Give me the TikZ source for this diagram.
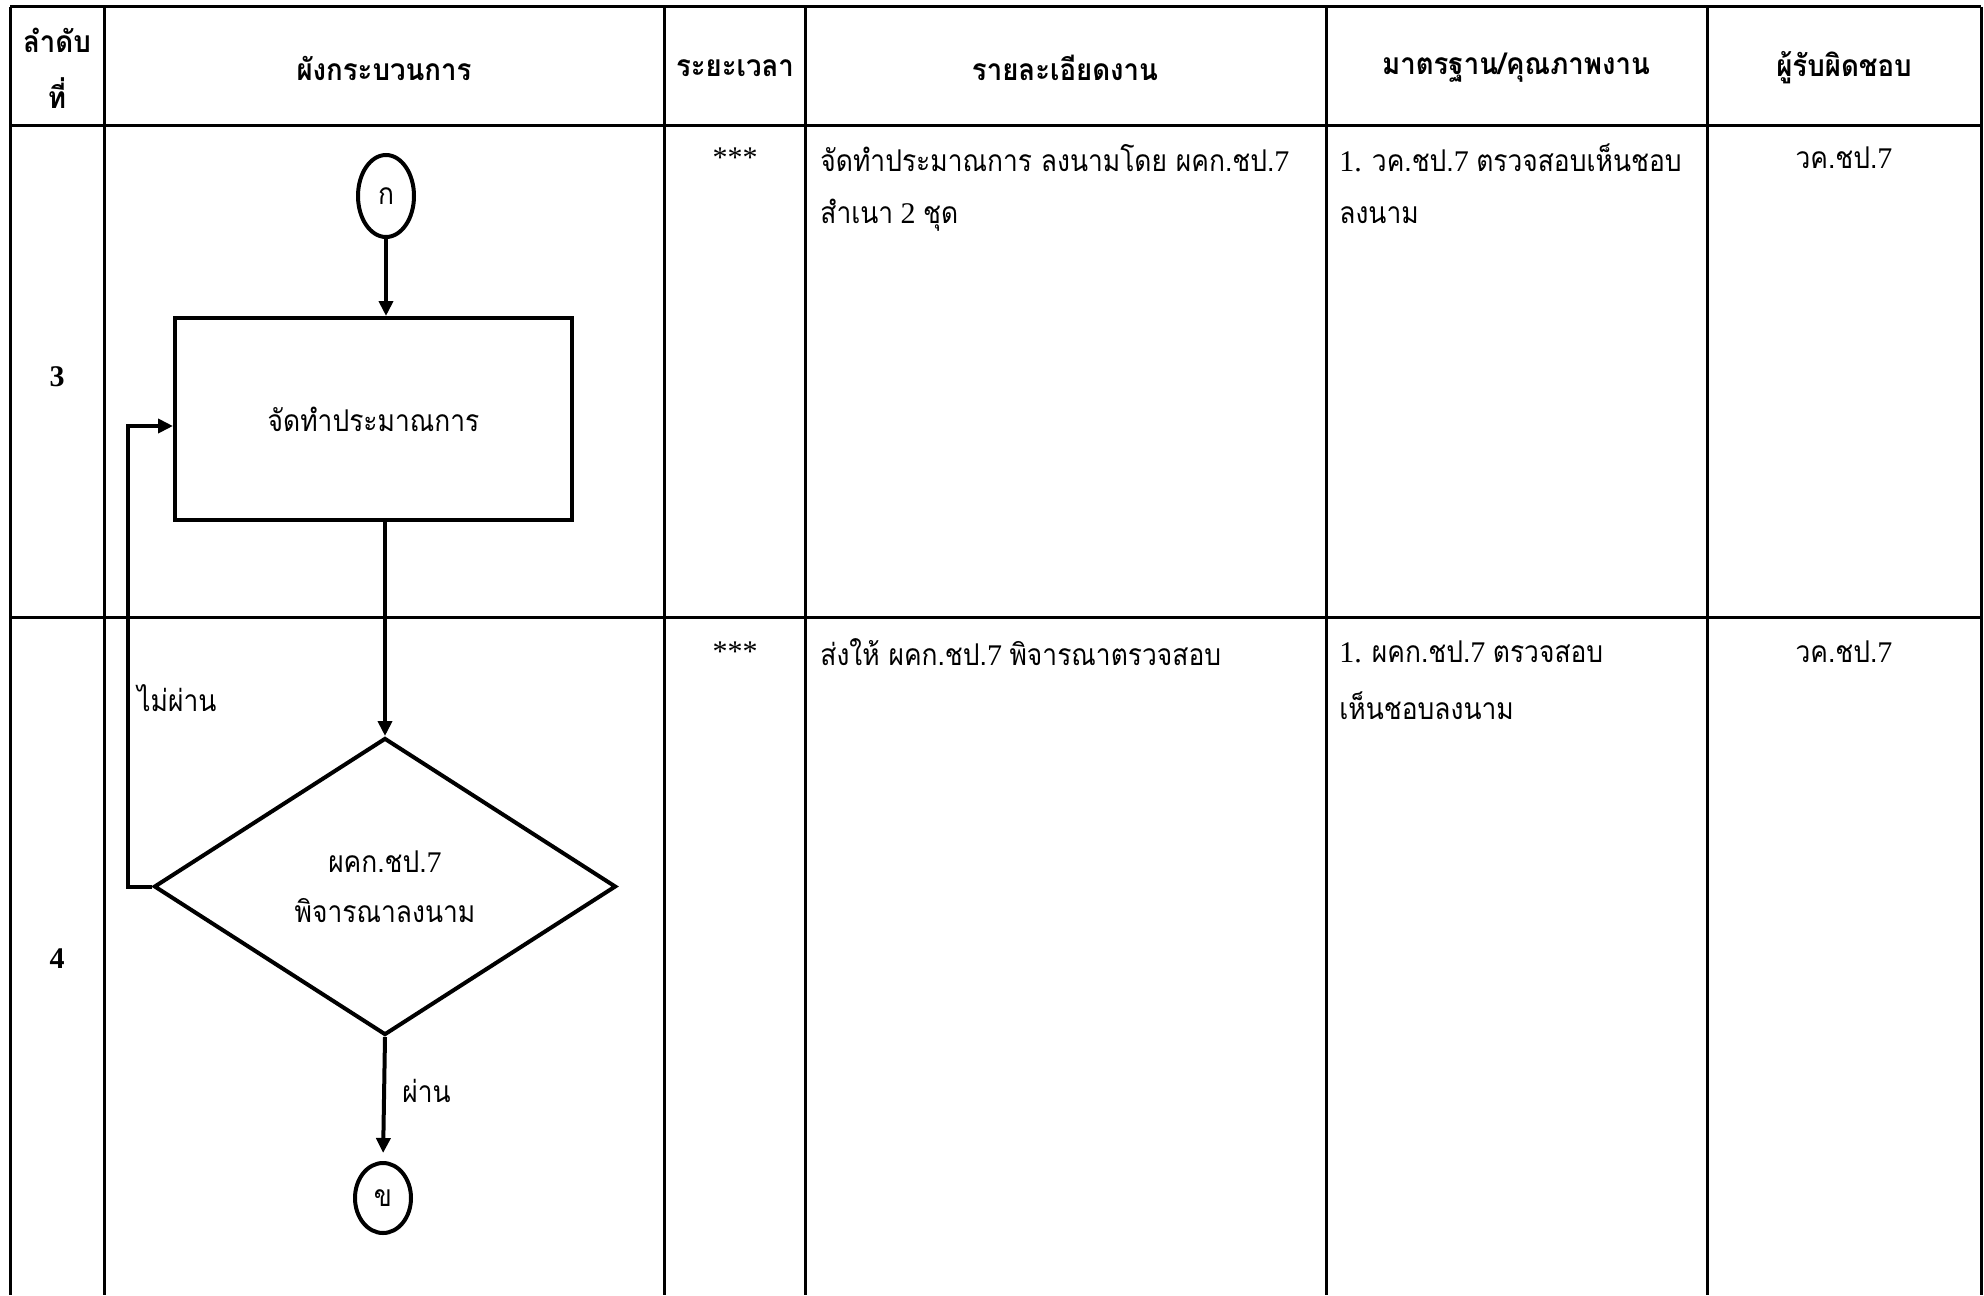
\documentclass[tikz,border=0pt]{standalone}
\usepackage{fontspec}
\setmainfont{Liberation Serif}
\newfontfamily\thfont[Script=Thai,FakeStretch=0.88]{Loma}
\newfontfamily\thhd[Script=Thai,FakeStretch=0.92]{Loma}
\usetikzlibrary{shapes.geometric,arrows.meta}
\newcommand\T[1]{{\thfont #1}}
\newcommand\THd[1]{{\thhd #1}}
\begin{document}
\begin{tikzpicture}[x=0.5pt,y=-0.5pt,
 tbl/.style={line width=1.5pt},
 fl/.style={line width=2pt},
 flow/.style={fl,-{Triangle[length=7.5pt,width=7pt]}},
 conn/.style={ellipse,draw,line width=2pt,inner sep=0pt,minimum width=28pt,font=\fontsize{15}{18}\selectfont},
 procbox/.style={rectangle,draw,line width=2pt,minimum width=198.5pt,minimum height=101pt,font=\fontsize{15}{20}\selectfont},
 decision/.style={diamond,draw,line width=2pt,inner sep=0pt,minimum width=231pt,minimum height=148.5pt,align=center,font=\fontsize{15}{25}\selectfont},
 hd/.style={font=\fontsize{15}{18}\selectfont\bfseries,inner sep=0pt},
 cell/.style={font=\fontsize{15}{18}\selectfont,anchor=west,inner sep=0pt},
 ctr/.style={font=\fontsize{15}{18}\selectfont,inner sep=0pt},
 lbl/.style={font=\fontsize{15}{20}\selectfont,anchor=west,inner sep=0pt}
]
\fill[white] (0,0) rectangle (1984,1295);
\useasboundingbox (0,0) rectangle (1984,1295);
% table grid
\draw[tbl] (10,7) -- (1981,7);
\draw[tbl] (10,125) -- (1981,125);
\draw[tbl] (10,617) -- (1981,617);
\foreach \cx in {10,104,664,805,1326,1707,1981}
  \draw[tbl] (\cx,7) -- (\cx,1295);
% header
\node[hd] (h1a) at (57,40) {\THd{ลำดับ}};
\node[hd] (h1b) at (57,93) {\THd{ที่}};
\node[hd] (h2) at (384,68) {\THd{ผังกระบวนการ}};
\node[hd] (h3) at (735,68) {\THd{ระยะเวลา}};
\node[hd] (h4) at (1065,68) {\THd{รายละเอียดงาน}};
\node[hd] (h5) at (1516,68) {\THd{มาตรฐาน/คุณภาพงาน}};
\node[hd] (h6) at (1844,68) {\THd{ผู้รับผิดชอบ}};
% row numbers
\node[ctr,font=\fontsize{15}{18}\selectfont\bfseries] (r3) at (57,377) {3};
\node[ctr,font=\fontsize{15}{18}\selectfont\bfseries] (r4) at (57,959) {4};
% row 3 cells
\node[ctr] (t3) at (735,158) {***};
\node[cell] (d3a) at (820,158) {\T{จัดทำประมาณการ ลงนามโดย ผคก.ชป.}7};
\node[cell] (d3b) at (820,215) {\T{สำเนา} 2 \T{ชุด}};
\node[cell] (s3a) at (1339,158) {1. \T{วค.ชป.}7 \T{ตรวจสอบเห็นชอบ}};
\node[cell] (s3b) at (1339,215) {\T{ลงนาม}};
\node[ctr] (p3) at (1844,158) {\T{วค.ชป.}7};
% row 4 cells
\node[ctr] (t4) at (735,652) {***};
\node[cell] (d4a) at (820,652) {\T{ส่งให้ ผคก.ชป.}7 \T{พิจารณาตรวจสอบ}};
\node[cell] (s4a) at (1339,652) {1. \T{ผคก.ชป.}7 \T{ตรวจสอบ}};
\node[cell] (s4b) at (1339,706) {\T{เห็นชอบลงนาม}};
\node[ctr] (p4) at (1844,652) {\T{วค.ชป.}7};
% flowchart
\node[conn,minimum height=41pt] (ka) at (386,196) {\T{ก}};
\node[procbox] (proc) at (373.5,419) {\T{จัดทำประมาณการ}};
\node[decision] (dec) at (385,886.5) {\T{ผคก.ชป.}7\\\T{พิจารณาลงนาม}};
\node[conn,minimum height=35pt] (kha) at (383,1198) {\T{ข}};
\coordinate (fb) at (128,426);
\draw[flow] (ka.south) -- (ka.south |- proc.north);
\draw[flow] (proc.south -| dec.north) -- (dec.north);
\draw[flow,shorten >=4pt] (dec.south) -- (kha.north);
\draw[flow] (dec.west) -| (fb) -- (fb -| proc.west);
\node[lbl] (no) at (137,698) {\T{ไม่ผ่าน}};
\node[lbl] (yes) at (402,1091) {\T{ผ่าน}};
\end{tikzpicture}
\end{document}
